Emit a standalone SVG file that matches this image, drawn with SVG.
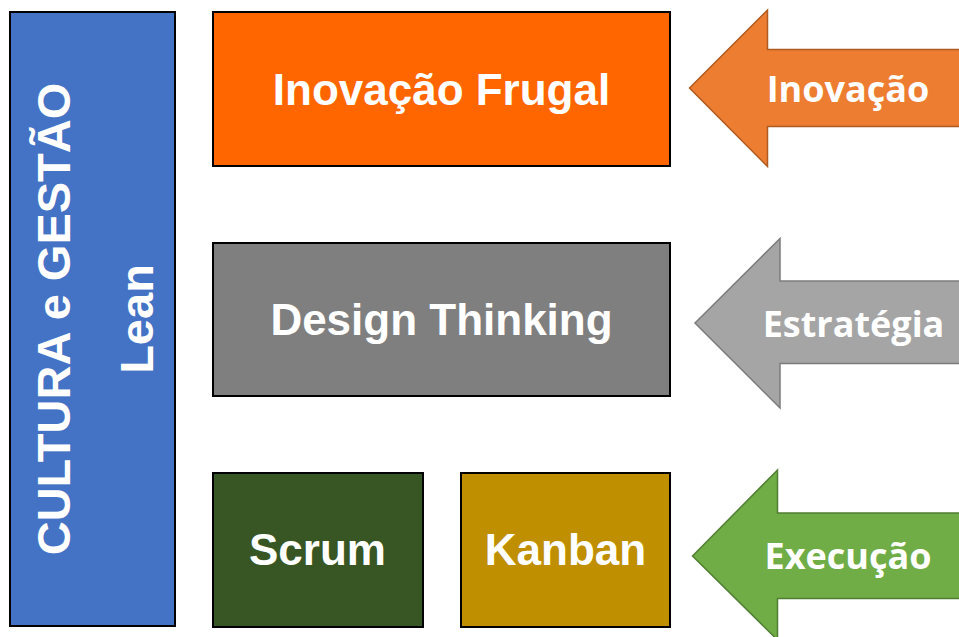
<svg xmlns="http://www.w3.org/2000/svg" width="959" height="637" viewBox="0 0 959 637">
  <style>
    .box { stroke: #000000; stroke-width: 2; }
    .boxText { font-family: "Liberation Sans", Arial, sans-serif; font-weight: bold; font-size: 44px; fill: #FFFFFF; text-anchor: middle; }
    .sideText { font-family: "Liberation Sans", Arial, sans-serif; font-weight: bold; font-size: 47px; fill: #FFFFFF; text-anchor: middle; }
    .arrowText { font-family: "Open Sans", "Liberation Sans", sans-serif; font-weight: bold; font-size: 36px; fill: #FFFFFF; text-anchor: middle; }
    .arrow { stroke-width: 1.5; stroke-linejoin: miter; }
  </style>

  <rect width="959" height="637" fill="#FFFFFF"/>

  <!-- Culture and management column -->
  <g id="cultura-lean">
    <rect class="box" x="10" y="12" width="165" height="614" fill="#4472C4"/>
    <text class="sideText" transform="translate(70,319) rotate(-90)">CULTURA e GESTÃO</text>
    <text class="sideText" transform="translate(153,319) rotate(-90)">Lean</text>
  </g>

  <!-- Method boxes -->
  <g id="inovacao-frugal">
    <rect class="box" x="213" y="12" width="457" height="154" fill="#FF6600"/>
    <text class="boxText" x="441.5" y="105">Inovação Frugal</text>
  </g>

  <g id="design-thinking">
    <rect class="box" x="213" y="243" width="457" height="153" fill="#7F7F7F"/>
    <text class="boxText" x="441.5" y="335">Design Thinking</text>
  </g>

  <g id="scrum">
    <rect class="box" x="213" y="473" width="210" height="154" fill="#375623"/>
    <text class="boxText" x="317.5" y="565">Scrum</text>
  </g>

  <g id="kanban">
    <rect class="box" x="461" y="473" width="209" height="154" fill="#BF8F00"/>
    <text class="boxText" x="565.5" y="565">Kanban</text>
  </g>

  <!-- Level arrows pointing at the boxes -->
  <g id="connectors">
    <g id="seta-inovacao">
      <polygon class="arrow" points="689.5,88 767.5,10 767.5,49.5 970,49.5 970,126.5 767.5,126.5 767.5,166.5" fill="#ED7D31" stroke="#AE5A21"/>
      <text class="arrowText" x="848" y="102">Inovação</text>
    </g>
    <g id="seta-estrategia">
      <polygon class="arrow" points="695,323 780,238.5 780,281 970,281 970,363.5 780,363.5 780,408" fill="#A5A5A5" stroke="#7C7C7C"/>
      <text class="arrowText" x="853.5" y="337">Estratégia</text>
    </g>
    <g id="seta-execucao">
      <polygon class="arrow" points="692.5,556 777.5,470 777.5,513 970,513 970,598.5 777.5,598.5 777.5,640" fill="#70AD47" stroke="#507E32"/>
      <text class="arrowText" x="848" y="569">Execução</text>
    </g>
  </g>
</svg>
